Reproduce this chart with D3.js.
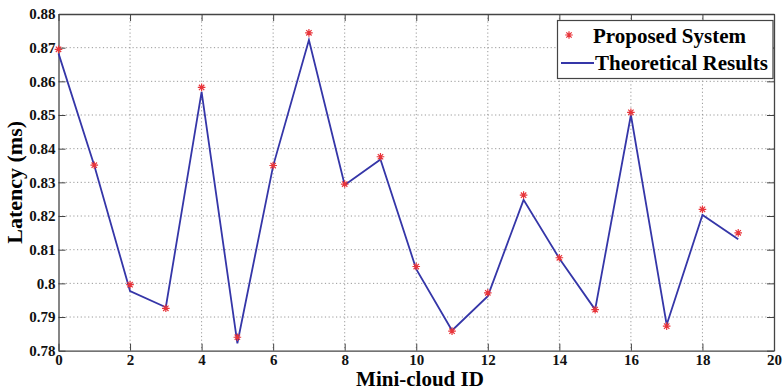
<!DOCTYPE html>
<html>
<head>
<meta charset="utf-8">
<script src="https://cdn.jsdelivr.net/npm/d3@7"></script>
<style>
  body { margin: 0; background: #fff; }
  svg { display: block; font-family: 'Liberation Serif', 'Times New Roman', serif; font-weight: bold; }
</style>
</head>
<body>
<svg id="chart"></svg>
<script>
const ids = d3.range(0, 20)
const proposed = [0.8695, 0.8351, 0.7996, 0.7926, 0.8582, 0.7840, 0.8350, 0.8744, 0.8295, 0.8376,
                  0.8050, 0.7858, 0.7972, 0.8262, 0.8076, 0.7922, 0.8508, 0.7873, 0.8220, 0.8150]
const theoretical = [0.8683, 0.8350, 0.7977, 0.7929, 0.8569, 0.7822, 0.8349, 0.8723, 0.8292, 0.8368,
                     0.8042, 0.7860, 0.7962, 0.8248, 0.8074, 0.7922, 0.8500, 0.7877, 0.8203, 0.8131]
const xTicks = d3.range(0, 21, 2)
const yTicks = [0.78, 0.79, 0.80, 0.81, 0.82, 0.83, 0.84, 0.85, 0.86, 0.87, 0.88]
const legendLabels = ['Proposed System', 'Theoretical Results']

const w = 783
const h = 388
const padL = 58.5, padR = 774, padT = 14, padB = 350.7
const axisColor = '#444'
const lineColor = '#3536a8'
const starColor = '#e8343a'
const serif = "'Liberation Serif', 'Times New Roman', serif"

const svg = d3.select('#chart').attr('width', w).attr('height', h)

const xScale = d3.scaleLinear().domain([0, 20]).range([padL, padR])
const yScale = d3.scaleLinear().domain([0.78, 0.88]).range([padB, padT])

// grid
const grid = svg.append('g')
grid.selectAll('.vg')
  .data(xTicks.slice(1, -1))
  .enter().append('line')
    .attr('x1', d => xScale(d)).attr('x2', d => xScale(d))
    .attr('y1', padT).attr('y2', padB)
    .attr('stroke', '#999').attr('stroke-width', 1)
    .attr('stroke-dasharray', '1.2,2.5')
grid.selectAll('.hg')
  .data(yTicks.slice(1, -1))
  .enter().append('line')
    .attr('x1', padL).attr('x2', padR)
    .attr('y1', d => yScale(d)).attr('y2', d => yScale(d))
    .attr('stroke', '#999').attr('stroke-width', 1)
    .attr('stroke-dasharray', '1.2,2.5')

// axes, ticks pointing inward like matlab
const fmtY = d => d3.format('.2f')(d).replace(/0$/, '')
const xAxis = d3.axisBottom(xScale).tickValues(xTicks).tickSizeInner(-7).tickSizeOuter(0).tickPadding(10)
const xAxisTop = d3.axisTop(xScale).tickValues(xTicks).tickSizeInner(-7).tickSizeOuter(0).tickFormat('')
const yAxis = d3.axisLeft(yScale).tickValues(yTicks).tickSizeInner(-7).tickSizeOuter(0).tickPadding(10).tickFormat(fmtY)
const yAxisRight = d3.axisRight(yScale).tickValues(yTicks).tickSizeInner(-7).tickSizeOuter(0).tickFormat('')

const gx = svg.append('g').attr('transform', 'translate(0,' + padB + ')').call(xAxis)
svg.append('g').attr('transform', 'translate(0,' + padT + ')').call(xAxisTop)
const gy = svg.append('g').attr('transform', 'translate(' + padL + ',0)').call(yAxis)
svg.append('g').attr('transform', 'translate(' + padR + ',0)').call(yAxisRight)

gx.attr('font-family', serif).attr('font-size', 15).attr('font-weight', 'bold')
gy.attr('font-family', serif).attr('font-size', 15).attr('font-weight', 'bold')
svg.selectAll('.domain').attr('stroke', axisColor).attr('stroke-width', 1.3)
svg.selectAll('.tick line').attr('stroke', axisColor).attr('stroke-width', 1)
svg.selectAll('.tick text').attr('fill', '#111')
gx.selectAll('.tick text').attr('dy', '0.71em').attr('y', 4)
gy.selectAll('.tick text').attr('x', -3)

// theoretical line
const line = d3.line().x((d, i) => xScale(ids[i])).y(d => yScale(d))
svg.append('path')
  .datum(theoretical)
  .attr('d', line)
  .attr('fill', 'none')
  .attr('stroke', lineColor)
  .attr('stroke-width', 1.8)
  .attr('stroke-linejoin', 'miter')

// star markers
function star(g, r) {
  const a = r * 0.7071
  g.append('path')
    .attr('d', `M${-r},0H${r}M0,${-r}V${r}M${-a},${-a}L${a},${a}M${-a},${a}L${a},${-a}`)
    .attr('stroke', starColor)
    .attr('stroke-width', 1.2)
    .attr('fill', 'none')
}
svg.selectAll('.star')
  .data(proposed)
  .enter().append('g')
    .attr('class', 'star')
    .attr('transform', (d, i) => 'translate(' + xScale(ids[i]) + ',' + yScale(d) + ')')
    .each(function () { star(d3.select(this), 3.8) })

// legend
const lg = svg.append('g')
lg.append('rect')
  .attr('x', 557.5).attr('y', 20.5).attr('width', 215.5).attr('height', 58)
  .attr('fill', '#fff').attr('stroke', axisColor).attr('stroke-width', 1.2)
const sg = lg.append('g').attr('transform', 'translate(569,35)')
star(sg, 3.8)
lg.append('line')
  .attr('x1', 561).attr('x2', 594).attr('y1', 63).attr('y2', 63)
  .attr('stroke', lineColor).attr('stroke-width', 1.8)
lg.selectAll('.lt')
  .data(legendLabels)
  .enter().append('text')
    .attr('x', (d, i) => i === 0 ? 593 : 595)
    .attr('y', (d, i) => i === 0 ? 43 : 70)
    .attr('font-size', '21px')
    .attr('fill', '#000')
    .text(d => d)

// axis titles
svg.append('text')
  .attr('x', 420)
  .attr('y', 386)
  .attr('text-anchor', 'middle')
  .attr('font-size', '21px')
  .text('Mini-cloud ID')
svg.append('text')
  .attr('transform', 'translate(22,' + (padT + padB) / 2 + ') rotate(-90)')
  .attr('text-anchor', 'middle')
  .attr('font-size', '22px')
  .text('Latency (ms)')
</script>
</body>
</html>
